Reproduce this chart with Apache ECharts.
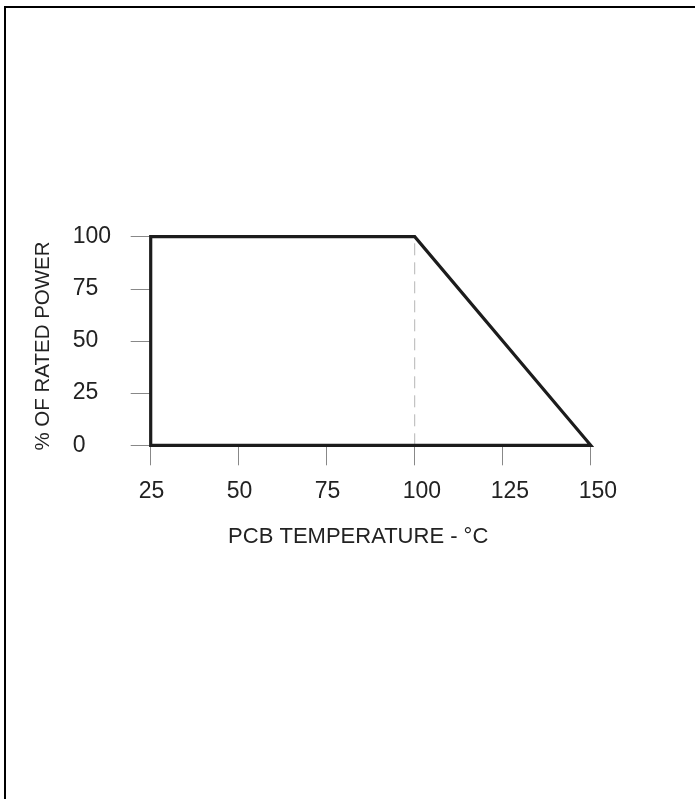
<!DOCTYPE html>
<html>
<head>
<meta charset="utf-8">
<script src="https://cdn.jsdelivr.net/npm/echarts@6/dist/echarts.min.js"></script>
<style>
  html, body { margin: 0; padding: 0; background: #fff; }
  #chart { width: 695px; height: 799px; }
  #frame { position: absolute; left: 4px; top: 6px; width: 700px; height: 800px;
           border-left: 2.5px solid #000; border-top: 2.5px solid #000; pointer-events: none; }
</style>
</head>
<body>
<div id="chart"></div>
<div id="frame"></div>
<script>
// Derating curve outline (PCB temperature °C vs % of rated power)
const temperature = [25, 25, 100, 150, 25];
const ratedPower = [0, 100, 100, 0, 0];
// Dashed guide at the knee
const guideTemp = [100, 100];
const guidePower = [0, 100];
// Axis ticks
const xTicks = [25, 50, 75, 100, 125, 150];
const yTicks = [0, 25, 50, 75, 100];
const xTitle = 'PCB TEMPERATURE - °C';
const yTitle = '% OF RATED POWER';

const font = "'Liberation Sans', Arial, Helvetica, sans-serif";
const textColor = '#222';

const chart = echarts.init(document.getElementById('chart'), null, { renderer: 'canvas' });
chart.setOption({
  backgroundColor: '#fff',
  animation: false,
  grid: { left: 150.7, right: 104.3, top: 236.7, bottom: 353.7 },
  xAxis: {
    type: 'value',
    min: xTicks[0], max: xTicks[xTicks.length - 1], interval: 25,
    name: xTitle, nameLocation: 'middle', nameGap: 81,
    nameTextStyle: { fontFamily: font, fontSize: 22, color: textColor, padding: [0, 25, 0, 0] },
    axisLine: { show: false },
    axisTick: { show: true, length: 20, lineStyle: { color: '#888', width: 1 } },
    splitLine: { show: false },
    axisLabel: {
      margin: 35,
      align: 'center',
      formatter: v => '{v|' + v + '}',
      rich: { v: { width: 24, align: 'left', fontFamily: font, fontSize: 23, color: textColor } }
    }
  },
  yAxis: {
    type: 'value',
    min: yTicks[0], max: yTicks[yTicks.length - 1], interval: 25,
    name: yTitle, nameLocation: 'middle', nameGap: 97, nameRotate: 90,
    nameTextStyle: { fontFamily: font, fontSize: 20.5, color: textColor, padding: [0, 10, 0, 0] },
    axisLine: { show: false },
    axisTick: { show: true, length: 20, lineStyle: { color: '#888', width: 1 } },
    splitLine: { show: false },
    axisLabel: { margin: 78, align: 'left', fontFamily: font, fontSize: 23, color: textColor }
  },
  series: [
    {
      name: 'guide', type: 'line', silent: true, symbol: 'none', z: 1,
      data: guideTemp.map((t, i) => [t, guidePower[i]]),
      lineStyle: { color: '#b5b5b5', width: 1, type: [12, 7] }
    },
    {
      name: 'derating', type: 'line', symbol: 'none', z: 2,
      data: temperature.map((t, i) => [t, ratedPower[i]]),
      lineStyle: { color: '#1c1c1c', width: 3.2, join: 'miter', cap: 'square' }
    }
  ]
});
</script>
</body>
</html>
